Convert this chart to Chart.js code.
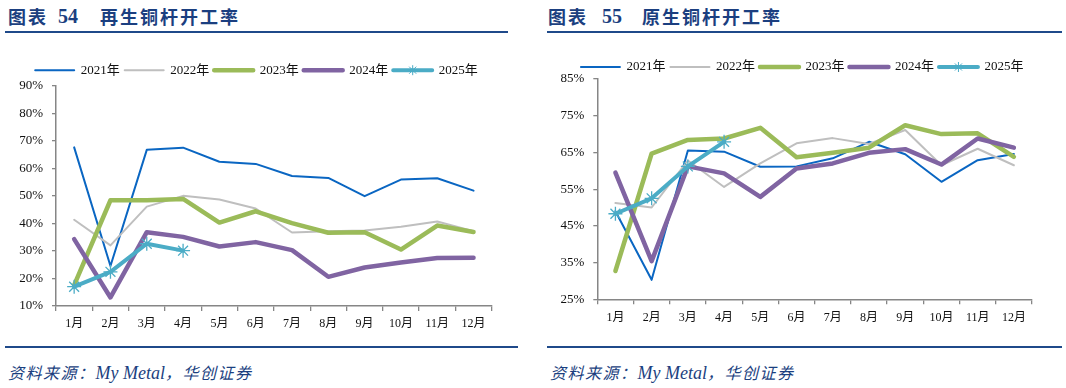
<!DOCTYPE html>
<html lang="zh">
<head>
<meta charset="UTF-8" />
<title>再生铜杆 / 原生铜杆开工率</title>
<script src="https://cdn.jsdelivr.net/npm/chart.js"></script>
<style>
  body { margin: 0; background: #fff; width: 1066px; height: 388px; position: relative; overflow: hidden; }
  .t { position: absolute; top: 5px; font-family: "Noto Sans CJK SC", sans-serif; font-weight: bold;
       font-size: 18px; color: #1b3f80; letter-spacing: 2px; line-height: 22px; }
  .num { font-family: "Liberation Serif", serif; font-size: 20px; letter-spacing: 0; }
  .rule { position: absolute; height: 2px; background: #1f4a8a; }
  .src { position: absolute; top: 362px; font-family: "Liberation Serif", "Noto Sans CJK SC", serif;
         font-style: italic; font-size: 16px; letter-spacing: 1.5px; color: #1b3f80; line-height: 22px; }
  .src .en { font-size: 18px; letter-spacing: 0; }
  canvas { position: absolute; top: 40px; }
</style>
</head>
<body>

<span class="t" style="left:8px">图表</span>
<span class="t num" style="left:58px">54</span>
<span class="t" style="left:100px">再生铜杆开工率</span>
<div class="rule" style="left:5px; width:503px; top:31px"></div>

<span class="t" style="left:548px">图表</span>
<span class="t num" style="left:602px">55</span>
<span class="t" style="left:642px">原生铜杆开工率</span>
<div class="rule" style="left:547px; width:515px; top:31px"></div>

<canvas id="recycled" width="514" height="300" style="left:0"></canvas>
<canvas id="primary" width="514" height="300" style="left:545px"></canvas>

<div class="rule" style="left:5px; width:513px; top:346px"></div>
<div class="rule" style="left:547px; width:515px; top:346px"></div>
<span class="src" style="left:8px">资料来源：<span class="en">My Metal</span>，华创证券</span>
<span class="src" style="left:550px">资料来源：<span class="en">My Metal</span>，华创证券</span>

<script>
  const months = ['1月', '2月', '3月', '4月', '5月', '6月', '7月', '8月', '9月', '10月', '11月', '12月'];
  const years = ['2021年', '2022年', '2023年', '2024年', '2025年'];

  // 再生铜杆开工率 (%)
  const recycled2021 = [67.6, 24.5, 66.7, 67.5, 62.4, 61.6, 57.2, 56.5, 49.9, 55.9, 56.4, 51.9];
  const recycled2022 = [41.3, 32.0, 46.1, 50.0, 48.7, 45.4, 36.7, 37.1, 37.4, 38.8, 40.7, 37.2];
  const recycled2023 = [17.6, 48.4, 48.4, 48.9, 40.3, 44.4, 40.1, 36.6, 36.8, 30.5, 39.2, 36.9];
  const recycled2024 = [34.3, 13.1, 36.8, 35.1, 31.6, 33.2, 30.3, 20.6, 24.0, 25.8, 27.4, 27.5];
  const recycled2025 = [17.0, 22.4, 32.6, 30.1];

  // 原生铜杆开工率 (%)
  const primary2021 = [49.0, 30.3, 65.5, 65.2, 61.1, 61.2, 63.4, 67.9, 64.5, 57.0, 62.9, 64.6];
  const primary2022 = [51.2, 50.0, 62.8, 55.6, 62.0, 67.5, 68.9, 67.3, 71.1, 61.5, 66.0, 61.5];
  const primary2023 = [32.7, 64.7, 68.4, 68.8, 71.7, 63.7, 64.9, 66.3, 72.4, 70.0, 70.2, 63.8];
  const primary2024 = [59.5, 35.4, 61.2, 59.3, 52.9, 60.6, 62.0, 64.9, 65.9, 61.7, 68.8, 66.3];
  const primary2025 = [48.3, 52.5, 61.2, 67.9];

  const colors = ['#0a66c2', '#bfbfbf', '#9bbb59', '#8064a2', '#4bacc6'];
  const widths = [2, 2, 4.5, 4.5, 4];
  const axisGray = '#868686';
  const tickFont = { family: '"Liberation Serif", "Noto Sans CJK SC", serif', size: 13 };

  // nudge the legend so it sits where the original one does
  const legendShift = {
    id: 'legendShift',
    afterLayout(chart, args, opts) {
      const lg = chart.legend;
      lg.left += opts.dx; lg.right += opts.dx;
      lg.top += opts.dy; lg.bottom += opts.dy;
    },
    afterDraw(chart) {
      const boxes = chart.legend.legendHitBoxes;
      if (!boxes || !boxes[4]) return;
      const b = boxes[4];
      const ctx = chart.ctx;
      ctx.save();
      ctx.strokeStyle = colors[4];
      ctx.lineWidth = 1;
      Chart.helpers.drawPoint(ctx, { pointStyle: 'star', radius: 5, borderWidth: 1 }, b.left + 19.5, b.top + b.height / 2);
      ctx.restore();
    }
  };

  function makeChart(id, series, yMin, yMax, yStep, cfg) {
    const datasets = series.map((data, i) => ({
      label: years[i],
      data: data,
      borderColor: colors[i],
      backgroundColor: colors[i],
      borderWidth: widths[i],
      borderJoinStyle: 'round',
      borderCapStyle: 'round',
      tension: 0,
      order: 4 - i,
      pointRadius: i === 4 ? 7 : 0,
      pointStyle: 'star',
      pointBorderWidth: 1.3,
      pointBorderColor: colors[i],
      pointHoverRadius: 0
    }));

    return new Chart(document.getElementById(id), {
      type: 'line',
      data: { labels: months, datasets: datasets },
      plugins: [legendShift],
      options: {
        responsive: false,
        animation: false,
        layout: { padding: { left: 0, right: cfg.pr, top: cfg.pt, bottom: 0 } },
        plugins: {
          tooltip: { enabled: false },
          legendShift: { dx: cfg.dx, dy: cfg.dy },
          legend: {
            reverse: true,
            labels: {
              boxWidth: 39,
              boxHeight: 0,
              padding: 5,
              color: '#111',
              font: { family: '"Liberation Serif", "Noto Sans CJK SC", serif', size: 13 }
            }
          }
        },
        scales: {
          x: {
            offset: true,
            grid: { offset: true, drawOnChartArea: false, tickLength: 5, color: axisGray, lineWidth: 1.3 },
            border: { color: axisGray, width: 1.5 },
            ticks: { color: '#111', font: { ...tickFont, size: 12 }, padding: 6, maxRotation: 0, autoSkip: false },
            afterFit(scale) { scale.height = cfg.xh; }
          },
          y: {
            min: yMin,
            max: yMax,
            grid: { drawOnChartArea: false, tickLength: 4, color: axisGray, lineWidth: 1.3 },
            border: { color: axisGray, width: 1.5 },
            ticks: {
              stepSize: yStep,
              color: '#111',
              font: tickFont,
              padding: 9,
              callback: v => v + '%'
            },
            afterFit(scale) { scale.width = cfg.yw; }
          }
        }
      }
    });
  }

  makeChart('recycled',
    [recycled2021, recycled2022, recycled2023, recycled2024, recycled2025],
    10, 90, 10,
    { pr: 22.3, pt: 17.7, yw: 56, xh: 34, dx: 10.6, dy: 1 });

  makeChart('primary',
    [primary2021, primary2022, primary2023, primary2024, primary2025],
    25, 85, 10,
    { pr: 27, pt: 11, yw: 52.3, xh: 40.7, dx: 13.7, dy: 4.5 });
</script>
</body>
</html>
